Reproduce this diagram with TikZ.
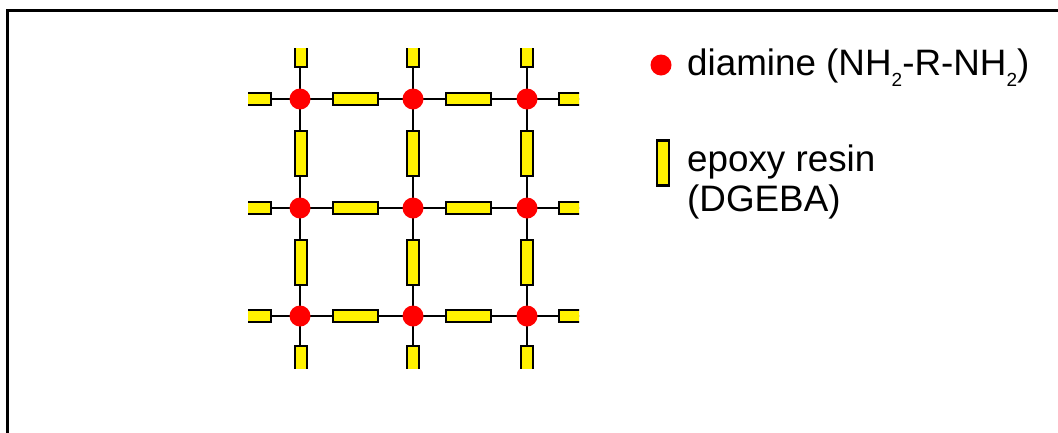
\documentclass[tikz,border=0pt]{standalone}
\usepackage{fontspec}
\setmainfont{Liberation Sans}
\newcommand\lowsub[1]{\raisebox{-11pt}{\fontsize{19}{19}\selectfont #1}}
\begin{document}
\begin{tikzpicture}[x=1pt,y=-1pt,
  bond/.style={line width=2.4pt,draw=black},
  amine/.style={circle,fill=red,draw=none,minimum size=21pt,inner sep=0pt},
  hresin/.style={rectangle,fill=yellow,draw=black,line width=2.4pt,minimum width=45pt,minimum height=12pt,inner sep=0pt},
  vresin/.style={rectangle,fill=yellow,draw=black,line width=2.4pt,minimum width=12pt,minimum height=45pt,inner sep=0pt},
  legendtext/.style={font=\fontsize{36.8}{40}\selectfont,inner sep=0pt,anchor=base west,align=left}]
\clip (0,0) rectangle (1058,432);
% outer frame
\draw[line width=3pt] (7,10) rectangle (1080,460);

% grid of amine sites
\foreach \c/\x in {1/300,2/413,3/527}
  \foreach \r/\y in {1/99,2/208,3/316}
    \coordinate (p\c\r) at (\x,\y);
\coordinate (tL) at (248,48);
\coordinate (bR) at (579,368);

\begin{scope}
\clip (tL) rectangle (bR);
% bonds
\foreach \r/\y in {1/99,2/208,3/316} {
  \coordinate (w\r) at (240,\y);
  \coordinate (e\r) at (590,\y);
  \draw[bond] (w\r) -- (p1\r) -- (p2\r) -- (p3\r) -- (e\r);
}
\foreach \c/\x in {1/300,2/413,3/527} {
  \coordinate (n\c) at (\x,40);
  \coordinate (s\c) at (\x,380);
  \draw[bond] (n\c) -- (p\c1) -- (p\c2) -- (p\c3) -- (s\c);
}
% epoxy segments
\foreach \r/\y in {1/99,2/208,3/316} {
  \node[hresin] (hw\r) at (248.5,\y) {};
  \node[hresin] (ha\r) at (355.5,\y) {};
  \node[hresin] (hb\r) at (468.5,\y) {};
  \node[hresin] (he\r) at (581.5,\y) {};
}
\foreach \c/\x in {1/301,2/413,3/527} {
  \node[vresin] (vn\c) at (\x,44.5) {};
  \node[vresin] (va\c) at (\x,153.5) {};
  \node[vresin] (vb\c) at (\x,262.5) {};
  \node[vresin] (vs\c) at (\x,368.5) {};
}
% amine sites
\foreach \c in {1,2,3}
  \foreach \r in {1,2,3}
    \node[amine] (a\c\r) at (p\c\r) {};
\end{scope}

% legend
\node[amine] (keyamine) at (661,65) {};
\node[legendtext] (keyaminetext) at (687,75.7) {diamine (NH\lowsub{2}-R-NH\lowsub{2})};
\node[vresin] (keyresin) at (663,163) {};
\node[legendtext] (keyresintext) at (687,211) {epoxy resin\\(DGEBA)};
\end{tikzpicture}
\end{document}
